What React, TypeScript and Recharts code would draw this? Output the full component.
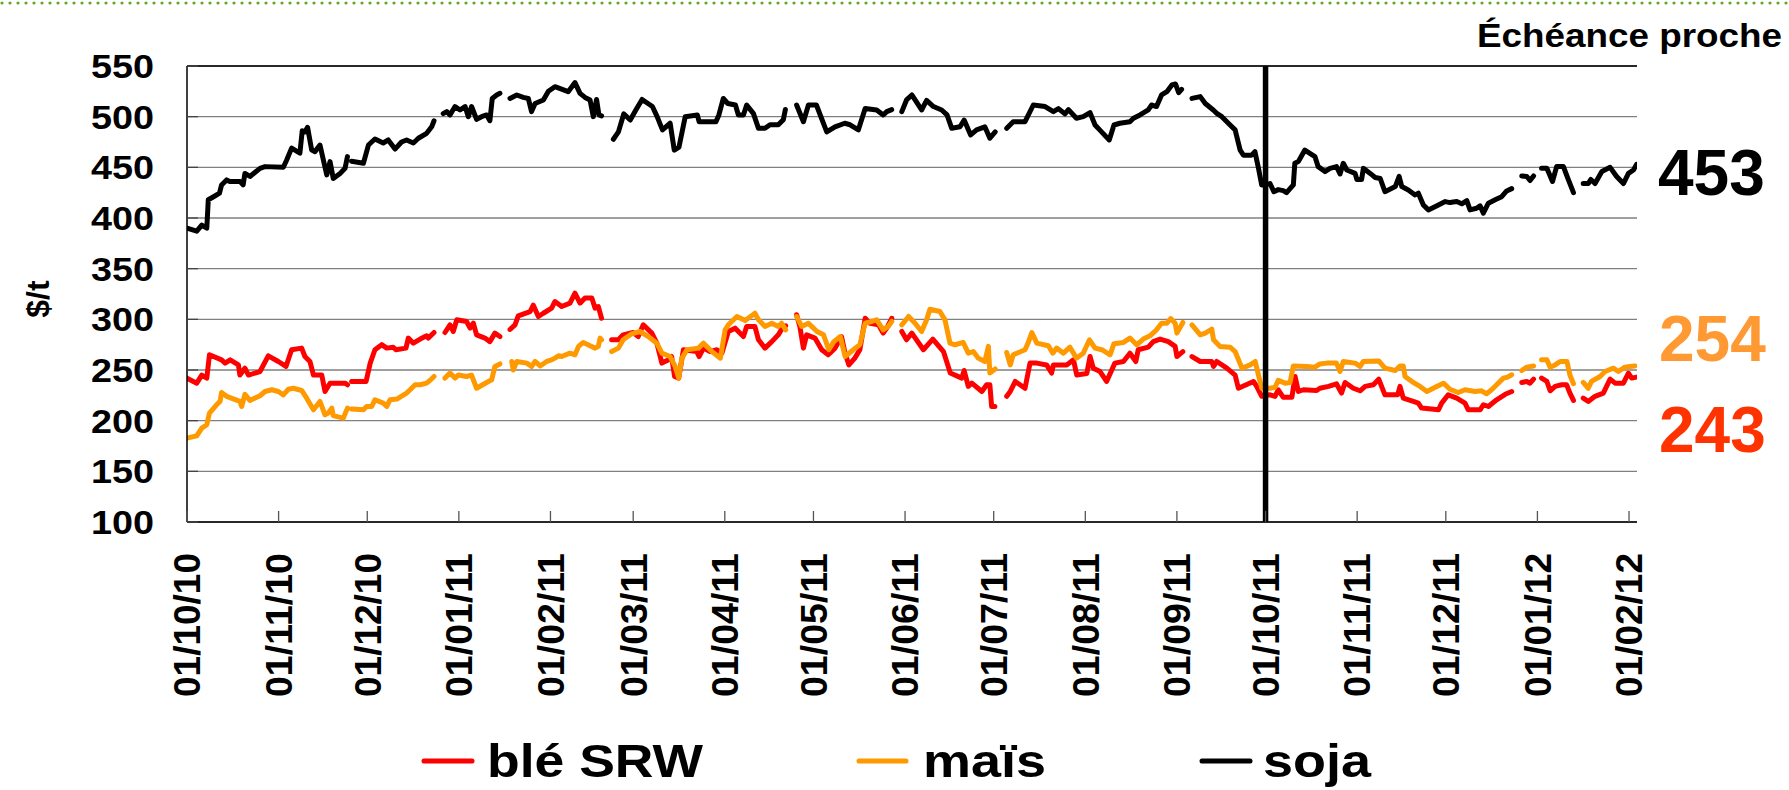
import React from 'react';
import { LineChart, Line, XAxis, YAxis, CartesianGrid, ReferenceLine } from 'recharts';

type Pt = [number, number | null];

// day offsets from 01/10/2010
const monthTicks = [0, 31, 61, 92, 123, 151, 182, 212, 243, 273, 304, 335, 365, 396, 426, 457, 488];
const monthLabels = ['01/10/10', '01/11/10', '01/12/10', '01/01/11', '01/02/11', '01/03/11', '01/04/11', '01/05/11', '01/06/11', '01/07/11', '01/08/11', '01/09/11', '01/10/11', '01/11/11', '01/12/11', '01/01/12', '01/02/12'];
const priceTicks = [100, 150, 200, 250, 300, 350, 400, 450, 500, 550];
const markerDay = 365;
const lastValues = { soja: 453, mais: 254, ble: 243 };

const sojaPoints: Pt[] = [
  [0,390],[3.3,387],[5,393],[6.7,390],[7.2,418],[9,421],[11,424.5],[11.7,432.6],[13.4,437.6],[14.5,436],[18,436],[19,432.6],[19.6,444],[21.3,441],[24.7,449],[26.4,450.7],[32.6,450],[33.7,457],[35.4,469],[38.2,464],[39,486],[39.9,485],[40.8,489.5],[42.2,467],[43.3,465.5],[45,472],[47.3,442.5],[48.4,455.7],[49.5,439],[51.8,444],[53.5,449],[54.3,460.6],[55,null],
  [55.7,456],[59.7,454],[61.4,472],[63.6,478],[66.4,474],[68.1,477],[70.4,468],[72.6,475],[74.3,477],[76.6,474],[78.3,478.7],[81.1,483.6],[82.8,490],[83.6,496],[85,null],
  [86.7,503],[87.9,505],[89,501.7],[90.7,510],[92.4,506.6],[94.1,510],[95.2,500],[96.3,510],[98,497.4],[99.7,500],[101.4,501.7],[102.5,496],[103.3,518],[104.8,521.4],[105.9,523],[108,null],
  [109.3,518],[111.6,521.4],[113.8,519],[115.5,518],[116.6,505],[117.8,513],[120.6,516.5],[122.3,525],[124.5,529.6],[129,524.7],[131.3,533.6],[133,523],[134.7,519],[136.4,516.5],[137.5,500],[138.6,517],[139.4,501.7],[140.3,500.7],[143,null],
  [144.3,477.7],[146,485],[147.8,502.7],[150,496.7],[151.9,506.6],[154,517],[157.5,510],[159.1,500],[160.9,487],[163.5,493.5],[164.9,467],[166.5,470],[168.6,500],[172.7,501.7],[173.3,495],[179,495],[180,501.7],[181.5,518],[183,513],[185.6,511.5],[186.6,501.7],[188.3,501.7],[189.4,511.5],[191.7,503],[193.4,488.5],[195.6,488.5],[197.3,492],[200.1,492],[201.8,497],[202.5,507],[204,null],
  [206.3,511.5],[208.6,495],[210.3,511.5],[213,511.5],[216.5,485],[219.3,490],[222.6,493.5],[224.4,492],[227.2,487],[229.5,508],[233.4,506.6],[235.6,501.7],[236.8,505],[238.5,507],[240.5,null],
  [241.9,505],[243.5,516.5],[245.3,521.4],[248.6,506.6],[250.3,516],[252.6,510],[255.4,506.6],[257.2,501.7],[258.8,488.5],[261.6,490],[263,496.7],[265.2,482],[267.2,487],[270,490],[271.7,478.7],[273.5,485],[275.5,null],
  [277.4,488.5],[279.6,495],[283.6,495],[286.4,511.5],[290.4,510],[293.2,505],[294.9,508],[297.1,502.7],[298.3,507],[301,498.4],[303.3,500],[305.6,504],[307.3,491.8],[309.5,485],[312.1,477],[313.7,491.8],[315.7,493.5],[319.1,495],[320.3,498.4],[322.5,501.7],[325.3,506.6],[326.4,511.5],[328.1,510],[329.8,521.4],[331.6,524.7],[333.3,531.3],[334.5,532.3],[335.6,523.7],[336.6,527],[338.5,null],
  [340.1,518],[342.9,519.8],[344.6,513],[347.3,506.6],[348.5,503.3],[350.2,500],[353,491.8],[354.7,487],[356.4,467],[357.5,462],[360.3,462],[361.4,465.5],[362.6,449],[363.7,432.6],[364.8,432.6],[366.5,434],[367.8,426],[369.3,428],[371,427],[372.1,425],[374.4,432.6],[374.9,454],[376.1,455.7],[378.3,467],[381.7,460.6],[382.8,450.7],[385.1,445.8],[386.8,449],[389,450.7],[390.2,443.5],[391.3,454],[392.5,447.4],[395.3,444],[395.9,438],[397.5,438],[398.1,449],[400.4,444],[402.1,440],[403.8,439],[405.4,426],[408.9,431],[410.2,441],[411.1,431],[413.3,427.7],[415.6,422.8],[416.7,424.5],[418.4,412.9],[420.1,408],[423.5,412.9],[425.8,416.2],[427.4,415.2],[429.7,416.2],[431.4,414],[433.1,417.2],[434.2,408],[436.4,409.6],[437.6,412],[438.7,404.7],[440.4,414.6],[442.7,418],[444.9,421],[446.6,426.7],[448.3,429],[450,null],
  [451.7,441.5],[453.4,441],[454.5,437],[455.7,441.5],[457,null],
  [458.4,449],[460.2,449],[462.1,436],[463.5,450.7],[465.8,450.7],[467.3,439],[469.2,425],[471,null],
  [472.5,434],[474.2,434],[475.1,438],[476.5,434],[478.8,445.8],[481.6,450],[483.8,441],[486.1,434],[487.8,444],[489.5,447.4],[490.6,453],
];

const blePoints: Pt[] = [
  [0,242],[3.3,237],[5,245],[6.7,242],[7.6,265],[11.7,260],[12.9,256.8],[14.6,260],[17.4,255],[17.9,245],[19.6,251.8],[20.8,245],[24.7,248.5],[27.5,264],[30.9,258.4],[33.5,253.5],[35.4,270],[38.8,271.6],[39.9,263.3],[41.6,258.4],[42.8,245],[45.6,245],[46.7,228.8],[48.4,237],[53.5,237],[54.3,235.4],[55,null],
  [55.7,238.7],[60.6,238.7],[62,256.8],[63.6,270],[65.9,275],[67.6,271.6],[69.8,272.5],[70.7,270],[74.1,271.6],[74.9,281.5],[76.6,276.5],[78.9,280.5],[81.1,283.7],[81.7,281.5],[83.6,287],[85,null],
  [87.3,287],[89,294.6],[90.1,288],[91.3,299.5],[94.6,297.9],[95.8,291.3],[96.9,296.2],[98,284.7],[100.8,281.5],[102.5,278],[104.2,286.4],[105.9,283],[108,null],
  [109.3,290],[111,294.6],[112.1,303.5],[116.1,307.7],[117.2,314],[118.9,302.8],[120.6,306],[123.4,311],[124.5,317.6],[126.8,312.6],[129.6,316],[131.3,325.8],[133,316],[134.7,321],[137,321],[138.1,311],[139.2,312.6],[140.3,301],[143,null],
  [143.7,279.8],[146,279.8],[147.6,284.7],[151,287],[152.7,283],[154.4,294.6],[157.3,286.4],[159,276.5],[160.7,256.8],[163,260],[164,263.3],[165,243.6],[166.4,242],[168,270],[172.5,268.2],[173.3,263.3],[174.8,271.6],[177,268.2],[179.3,270],[181,266.6],[183.2,288],[185.5,291.3],[188.3,283],[189.4,292.9],[192.2,292.9],[193.4,279.8],[195.6,271.6],[197.9,278],[200.1,284.7],[201.8,292.9],[202.6,293.6],[204,null],
  [206.3,304.5],[207.4,292.9],[208.6,271.6],[209.7,284.7],[212.5,281.5],[214.8,270],[217,265],[219.3,271.6],[221.5,283],[222.7,266.6],[224,255],[226,261.7],[227.7,270],[229.5,301],[231.2,296],[234,294.6],[235.6,286.4],[236.8,291.3],[238.5,301],[240.5,null],
  [241.9,288],[243.5,279.8],[245.3,286.4],[249.2,270],[252.4,280.5],[256,268.2],[258.3,247],[262.2,242],[263,249.5],[264.4,233.8],[265.6,237],[269,228.8],[270.6,235.4],[271.7,235.4],[272.3,214],[273.4,214],[275.5,null],
  [277.4,224],[278.6,228.8],[280.3,238.7],[283.6,232],[285.3,256.8],[287.6,256.8],[290.9,255],[292.6,247],[293.2,255],[297.7,255],[300,260],[301.1,245],[304.5,246.5],[305.6,263.3],[306.7,251.8],[309,248.5],[311.2,238.7],[314,256.8],[316.9,258.4],[319.1,266.6],[321.1,258.4],[321.9,270],[325.3,272.5],[327,278],[329.3,280.5],[332.1,278],[334.4,273.3],[335,263.3],[337,268.2],[338.5,null],
  [340.1,263.3],[342.9,258.4],[346.8,258.4],[347.4,253.5],[348.5,258.4],[351.9,251.8],[354.7,245],[355.8,232],[360.9,238.7],[362,233.8],[363.7,224],[366.5,225.5],[368.2,224],[369.3,230.5],[371,223],[373.9,223],[375,243.6],[376.1,228.8],[377.8,230.5],[382.3,229.8],[383.4,232],[386.3,233.8],[389,236.4],[390.7,227.2],[391.9,237.7],[394.7,232],[397,229.5],[398.7,233.8],[401.5,235.4],[403.3,241],[405.4,225.5],[409.7,225.5],[410.5,233.8],[411.6,222.2],[415,219],[416.7,217.3],[417.8,212.4],[423.5,210.7],[424.6,217.3],[426.8,225.5],[429.7,222.2],[432.5,217.3],[433.6,210.7],[437.6,210.7],[438.7,215.7],[440.4,214],[443.2,220.6],[446.1,226],[448.3,228.8],[450,null],
  [451.7,237.7],[453.4,238.7],[454.5,237],[455.7,241],[457,null],
  [458.4,242],[460.2,238.7],[461.3,229.5],[463,233.8],[465.2,235.4],[466.9,235.4],[468,227.2],[469.2,220],[471,null],
  [472.5,222.2],[474.2,219],[476.5,224],[479.3,227.2],[481.6,241],[483.3,237],[486.1,237],[487.8,246.8],[488.9,242],[490.6,243],
];

const maisPoints: Pt[] = [
  [0,182.8],[3.3,185],[5,192.7],[6.7,196],[7.6,207.5],[10,215.7],[11.2,219],[11.7,227.8],[13.4,224],[17.9,219],[18.5,214],[19.6,226],[21.3,220],[24.7,224.6],[26.4,228.8],[28.7,230.5],[30.9,228.8],[32.6,225.5],[34.3,231],[36,232],[38.8,229.8],[40.5,222.2],[42.8,210.7],[45,219],[46.7,205.8],[47.8,207.5],[49,212.4],[49.5,205],[52.9,202.5],[54.3,212.4],[55,null],
  [55.7,211.4],[59.7,210.7],[60.8,214],[62.5,214],[63.6,220.6],[66.4,217.3],[67.6,214],[68.7,220.6],[71,221.3],[74.3,227.2],[75.5,230.5],[77.2,235.4],[78.9,235.4],[81.1,237],[82.2,239.7],[83.6,243.6],[85,null],
  [87.3,242],[89,247],[90.7,242],[91.8,245],[94.6,243.6],[96.3,245],[98,232],[101.4,237.7],[103.1,240.3],[104.2,253.5],[105.9,256],[108,null],
  [109.9,258.4],[110.4,250],[111.6,258.4],[115,256.8],[116.6,253.5],[117.8,258.4],[119.5,254],[121.7,258.4],[123.4,260],[124.5,261.7],[125.7,264],[126.8,263.3],[129.6,266.6],[131.3,265],[132.5,273.3],[134.1,277.2],[136.4,273.9],[138.1,271.6],[139.2,273.3],[139.8,281.5],[140.3,279.8],[143,null],
  [143.7,268.2],[146,271.6],[147.6,279.8],[150.5,285.7],[153.3,288],[156.1,283],[159,276.5],[160.7,266.6],[163.5,263.3],[165.2,253.5],[166.4,242],[167.5,261.7],[169.2,270],[173.1,271.6],[174.8,276.5],[177.6,268.2],[180.5,261.7],[182.1,289.6],[183.2,294.6],[186.1,302.8],[188.9,298.8],[192.2,306],[193.4,299.5],[195.6,293],[197.9,296.2],[200.1,293],[201.2,296.2],[202.6,289.6],[204,null],
  [206.3,302.8],[208,293],[210.3,296.2],[211.4,293],[213.2,288],[215.4,284.7],[217.2,270],[218.9,278],[221.1,283],[222.7,263.3],[225.5,270],[227.7,274.9],[229.5,296.2],[231.7,297.9],[233.4,299.5],[235.6,289.6],[237.3,293],[238.5,297.9],[240.5,null],
  [241.9,294.6],[244.2,302.8],[246.4,296.2],[248.6,288],[250.3,299.5],[251.4,310],[254.8,307.7],[256.5,299.5],[258.2,276.5],[259.9,274.9],[262.7,277.2],[264.4,266.6],[266.1,268.2],[267.8,261.7],[270,258.4],[271.2,273.3],[271.7,247],[273.5,251],[275.5,null],
  [277.4,267.3],[278.6,255],[279.6,265],[283.6,270],[284.8,278],[285.9,287],[287.6,276.5],[291.5,273.9],[293,266.6],[294.3,271.6],[296.6,266.6],[298.8,272.5],[301,261.7],[303.3,266.6],[305.4,279.8],[307.3,271.6],[309.6,270],[312.4,265],[313.7,276],[316.9,277.2],[319.1,281.5],[321.4,274.9],[323.6,280.5],[325.9,283.7],[328.1,289.6],[329.8,296.2],[331.6,296.2],[332.9,300.8],[334.4,296.2],[335,286.4],[337,296.9],[338.5,null],
  [340.1,294.6],[342.9,284.7],[344.6,286.4],[346.8,290.3],[347.4,279.8],[349.6,273.3],[353,272.5],[354.7,268.2],[357,251.8],[359.8,255],[361.5,258.4],[362.6,245],[363.7,232],[366.5,232],[368.2,233],[369.3,239.7],[371.6,237],[373.3,237.7],[374.4,254],[378.9,253.5],[381.7,252.8],[383.4,256],[385.7,256.8],[389,256.8],[390.2,248.5],[391.3,258.4],[395.3,256.8],[397,253.5],[398.1,258.4],[403.3,259],[405.4,251.8],[408.9,249.5],[410.5,254],[411.6,254],[412.2,243.6],[415,237.7],[417.3,233.8],[419.6,228.8],[422.4,233],[425.2,237],[427.4,231],[430.2,227.8],[432.5,230.5],[435.9,228.8],[438.1,229.5],[439.8,226.5],[441.5,230.5],[443.2,235.4],[445.5,242],[446.9,243],[448.3,245.3],[450,null],
  [451.7,249.5],[453.4,252.8],[455.7,254],[457,null],
  [458.4,260],[460.2,260],[461.3,252.8],[463,255],[464.7,258.4],[467,258.4],[468,245],[469.2,236.4],[471,null],
  [472.5,237.7],[474.2,232],[475.3,238.7],[478.2,243.6],[479.9,248.5],[482.7,251.8],[484.4,248.5],[486.6,252.8],[488.3,253.5],[490,254],
];

const toData = (pts: Pt[]) => pts.map(([d, v]) => ({ d, v }));
const bleData = toData(blePoints);
const maisData = toData(maisPoints);
const sojaData = toData(sojaPoints);

const FONT = '"Liberation Sans", Arial, Helvetica, sans-serif';
const W = 1789;
const H = 790;
const PLOT_BOTTOM = 522;

const XTick = (props: any) => {
  const { x, payload } = props;
  const idx = monthTicks.indexOf(payload.value);
  const label = idx >= 0 ? monthLabels[idx] : '';
  const y0 = 553;
  return (
    <g>
      <line x1={x} x2={x} y1={PLOT_BOTTOM} y2={PLOT_BOTTOM - 11} stroke="#555" strokeWidth={1.3} />
      <text
        x={x}
        y={y0}
        dy="0.36em"
        transform={`rotate(-90, ${x}, ${y0})`}
        textAnchor="end"
        fontFamily={FONT}
        fontWeight="bold"
        fontSize={37}
        textLength={144}
        lengthAdjust="spacingAndGlyphs"
        fill="#000"
      >
        {label}
      </text>
    </g>
  );
};

const YTick = (props: any) => {
  const { y, payload } = props;
  return (
    <g>
      <line x1={187} x2={198} y1={y} y2={y} stroke="#444" strokeWidth={1.3} />
      <text
        x={154}
        y={y}
        dy="0.36em"
        textAnchor="end"
        fontFamily={FONT}
        fontWeight="bold"
        fontSize={33}
        textLength={63}
        lengthAdjust="spacingAndGlyphs"
        fill="#000"
      >
        {payload.value}
      </text>
    </g>
  );
};

const legendItems = [
  { label: 'blé SRW', color: '#FF0000', x1: 424, x2: 472, tx: 487, tl: 216 },
  { label: 'maïs', color: '#FF9900', x1: 859, x2: 906, tx: 923, tl: 123 },
  { label: 'soja', color: '#000000', x1: 1202, x2: 1250, tx: 1263, tl: 108 },
];

const lineCommon = {
  dataKey: 'v',
  strokeWidth: 5,
  dot: false,
  activeDot: false,
  connectNulls: false,
  isAnimationActive: false,
  strokeLinejoin: 'round' as const,
  strokeLinecap: 'round' as const,
};

export default function App() {
  return (
    <div style={{ position: 'absolute', left: 0, top: 0, width: W, height: H, background: '#fff' }}>
      <LineChart
        width={W}
        height={H}
        margin={{ top: 66, right: 152, bottom: 208, left: 127 }}
      >
        <CartesianGrid vertical={false} stroke="#808080" strokeWidth={1.3} />
        <XAxis
          type="number"
          dataKey="d"
          domain={[0, 490.7]}
          ticks={monthTicks}
          interval={0}
          allowDataOverflow
          height={60}
          tickSize={0}
          tickMargin={0}
          tickLine={false}
          axisLine={{ stroke: '#000', strokeWidth: 1.5 }}
          tick={(p: any) => <XTick {...p} />}
        />
        <YAxis
          type="number"
          domain={[100, 550]}
          ticks={priceTicks}
          interval={0}
          allowDataOverflow
          width={60}
          tickSize={0}
          tickMargin={0}
          tickLine={false}
          axisLine={{ stroke: '#000', strokeWidth: 1.5 }}
          tick={(p: any) => <YTick {...p} />}
        />
        <ReferenceLine y={550} stroke="#000" strokeWidth={1.5} />
        <Line data={bleData} stroke="#FF0000" {...lineCommon} />
        <Line data={maisData} stroke="#FF9900" {...lineCommon} />
        <Line data={sojaData} stroke="#000000" {...lineCommon} />
        <ReferenceLine x={markerDay} stroke="#000" strokeWidth={5.5} />
      </LineChart>
      <svg
        width={W}
        height={H}
        style={{ position: 'absolute', left: 0, top: 0, pointerEvents: 'none' }}
      >
        <line x1={2} x2={W} y1={3} y2={3} stroke="#66A61E" strokeWidth={3.2} strokeDasharray="0 8" strokeLinecap="round" />
        <text x={1782} y={47} textAnchor="end" fontFamily={FONT} fontWeight="bold" fontSize={33} textLength={305} lengthAdjust="spacingAndGlyphs" fill="#000">
          Échéance proche
        </text>
        <text x={37} y={299} dy="0.36em" textAnchor="middle" transform="rotate(-90, 37, 299)" fontFamily={FONT} fontWeight="bold" fontSize={32} fill="#000">
          $/t
        </text>
        <text x={1658} y={195} fontFamily={FONT} fontWeight="bold" fontSize={64} fill="#000">{lastValues.soja}</text>
        <text x={1659} y={361} fontFamily={FONT} fontWeight="bold" fontSize={64} fill="#FF9933">{lastValues.mais}</text>
        <text x={1659} y={452} fontFamily={FONT} fontWeight="bold" fontSize={64} fill="#FF3300">{lastValues.ble}</text>
        {legendItems.map((it) => (
          <g key={it.label}>
            <line x1={it.x1} x2={it.x2} y1={761} y2={761} stroke={it.color} strokeWidth={5} strokeLinecap="round" />
            <text x={it.tx} y={777} fontFamily={FONT} fontWeight="bold" fontSize={46} textLength={it.tl} lengthAdjust="spacingAndGlyphs" fill="#000">
              {it.label}
            </text>
          </g>
        ))}
      </svg>
    </div>
  );
}
